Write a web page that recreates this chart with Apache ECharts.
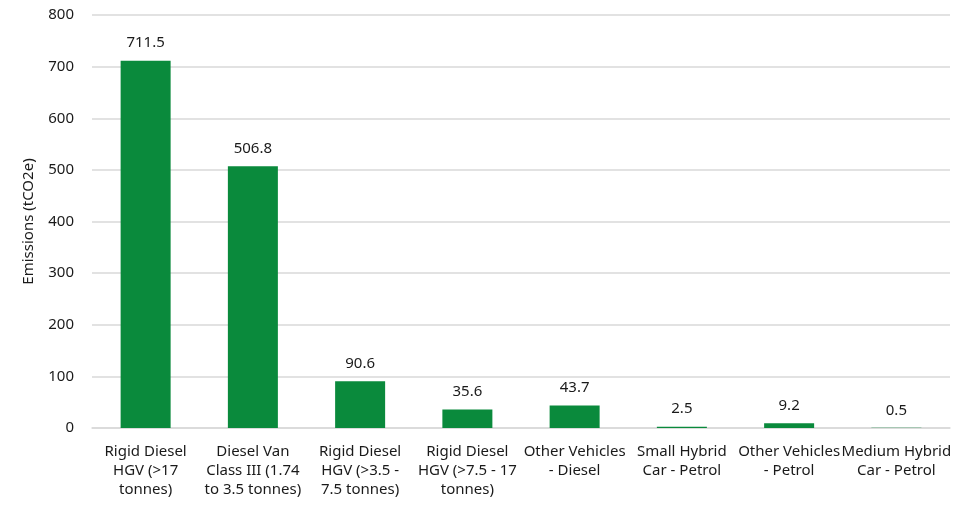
<!DOCTYPE html>
<html>
<head>
<meta charset="utf-8">
<script src="https://cdn.jsdelivr.net/npm/echarts@6/dist/echarts.min.js"></script>
<style>
  html, body { margin: 0; padding: 0; background: #fff; }
  #main { width: 963px; height: 506px; }
</style>
</head>
<body>
<div id="main"></div>
<script>
const categories = [
  'Rigid Diesel\nHGV (>17\ntonnes)',
  'Diesel Van\nClass III (1.74\nto 3.5 tonnes)',
  'Rigid Diesel\nHGV (>3.5 -\n7.5 tonnes)',
  'Rigid Diesel\nHGV (>7.5 - 17\ntonnes)',
  'Other Vehicles\n- Diesel',
  'Small Hybrid\nCar - Petrol',
  'Other Vehicles\n- Petrol',
  'Medium Hybrid\nCar - Petrol'
];
const emissions = [711.5, 506.8, 90.6, 35.6, 43.7, 2.5, 9.2, 0.5];
const yTicks = { min: 0, max: 800, interval: 100 };

const font = '"Noto Sans", sans-serif';
const chart = echarts.init(document.getElementById('main'));

chart.setOption({
  animation: false,
  textStyle: { fontFamily: font },
  grid: { left: 92, right: 13, top: 15, bottom: 78 },
  xAxis: {
    type: 'category',
    data: categories,
    axisTick: { show: false },
    axisLine: { lineStyle: { color: '#d9d9d9', width: 1.5 } },
    axisLabel: {
      color: '#1a1a1a',
      fontSize: 15,
      lineHeight: 19,
      interval: 0,
      margin: 14,
      fontFamily: font
    }
  },
  yAxis: {
    type: 'value',
    min: yTicks.min,
    max: yTicks.max,
    interval: yTicks.interval,
    name: 'Emissions (tCO2e)',
    nameLocation: 'middle',
    nameGap: 56,
    nameTextStyle: { color: '#1a1a1a', fontSize: 15, fontFamily: font },
    axisLine: { show: false },
    axisTick: { show: false },
    axisLabel: { color: '#1a1a1a', fontSize: 15, margin: 18, fontFamily: font },
    splitLine: { lineStyle: { color: '#d9d9d9', width: 1.5 } }
  },
  series: [{
    type: 'bar',
    data: emissions,
    barWidth: 50,
    itemStyle: { color: '#0a8a3c' },
    label: {
      show: true,
      position: 'top',
      distance: 10,
      color: '#1a1a1a',
      fontSize: 15,
      fontFamily: font,
      formatter: p => p.value.toFixed(1)
    }
  }]
});
</script>
</body>
</html>
